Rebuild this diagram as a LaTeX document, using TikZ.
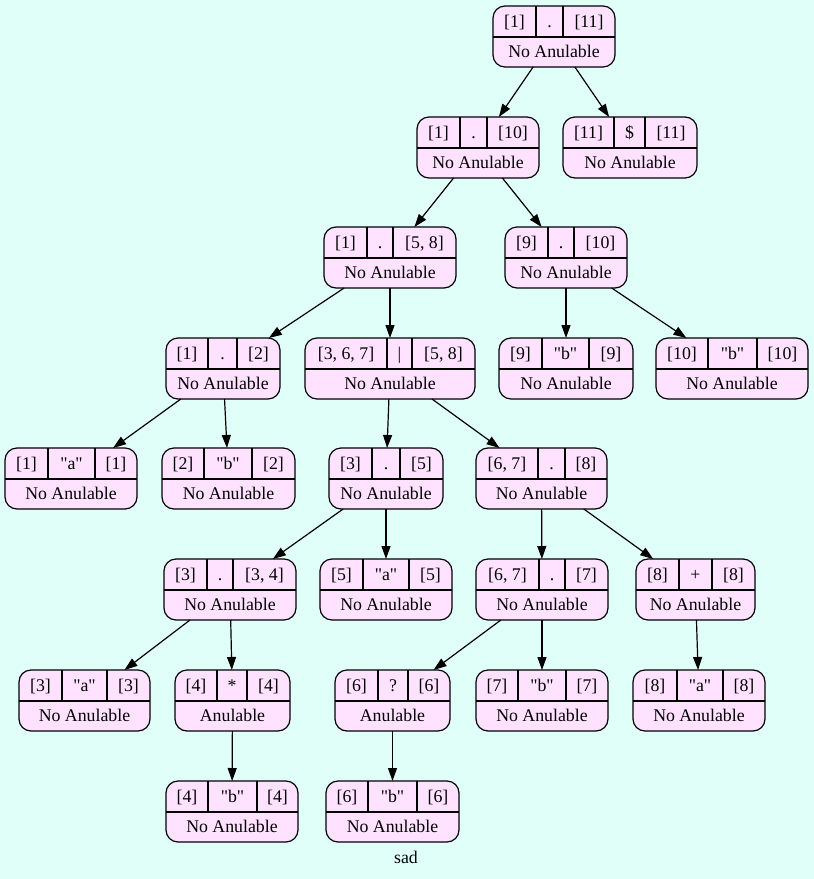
\documentclass[tikz,border=0pt]{standalone}
\usepackage{fontspec}
\setmainfont{Liberation Serif}
\newfontfamily\plainfont{Liberation Serif}
\usetikzlibrary{arrows.meta}
\definecolor{bgcol}{HTML}{E0FFF8}
\definecolor{nodefill}{HTML}{FFE2FF}
\tikzset{
  recbox/.style={draw=black, line width=1.2pt, fill=nodefill, rounded corners=12pt,
    minimum height=61pt, inner sep=0pt, outer sep=0pt, rectangle},
  divline/.style={draw=black, line width=1.2pt},
  celltxt/.style={font=\plainfont\fontsize{17.8}{20}\selectfont, anchor=base, inner sep=0pt},
  edge/.style={draw=black, line width=1.2pt, -{Triangle[length=13pt,width=9pt]}},
}
% #1 name, #2 left, #3 right, #4 top, #5 v1, #6 v2, #7 t1, #8 t2, #9 t3
\newcommand\recgen[9]{%
  \node[recbox, minimum width={#3-#2}] (#1) at ({(#2+#3)/2},{-#4-30.5}) {};
  \draw[divline] (#2,{-#4-31}) -- (#3,{-#4-31});
  \draw[divline] (#5,{-#4}) -- (#5,{-#4-31});
  \draw[divline] (#6,{-#4}) -- (#6,{-#4-31});
  \node[celltxt] at ({(#2+#5)/2},{-#4-21.5}) {#7};
  \node[celltxt] at ({(#5+#6)/2},{-#4-21.5}) {#8};
  \node[celltxt] at ({(#6+#3)/2},{-#4-21.5}) {#9};
  \node[celltxt] at ({(#2+#3)/2},{-#4-51}) {\bottomtext};
}
\newcommand\recN{\def\bottomtext{No Anulable}\recgen}
\newcommand\recA{\def\bottomtext{Anulable}\recgen}
\begin{document}
\begin{tikzpicture}[x=1pt,y=1pt]
\fill[bgcol] (0,0) rectangle (814,-879);
\useasboundingbox (0,0) rectangle (814,-879);

\recN{root}{493}{615}{6}{536}{563}{[1]}{.}{[11]}
\recN{n11}{563}{697}{117}{614}{645}{[11]}{\$}{[11]}
\recN{n110}{417}{539}{117}{460}{487}{[1]}{.}{[10]}
\recN{n158}{324}{456}{227}{367}{393}{[1]}{.}{[5, 8]}
\recN{n910}{505}{627}{227}{548}{574}{[9]}{.}{[10]}
\recN{n12}{166}{280}{338}{208}{237}{[1]}{.}{[2]}
\recN{n367}{305}{475}{338}{387}{412}{[3, 6, 7]}{|}{[5, 8]}
\recN{n9b}{499}{633}{338}{542}{589}{[9]}{"b"}{[9]}
\recN{n10b}{656}{808}{338}{708}{757}{[10]}{"b"}{[10]}
\recN{n1a}{5}{137}{448}{48}{95}{[1]}{"a"}{[1]}
\recN{n2b}{162}{295}{448}{204}{252}{[2]}{"b"}{[2]}
\recN{n35}{329}{443}{448}{372}{400}{[3]}{.}{[5]}
\recN{n678}{476}{607}{448}{538}{565}{[6, 7]}{.}{[8]}
\recN{n334}{164}{296}{559}{207}{233}{[3]}{.}{[3, 4]}
\recN{n5a}{320}{452}{559}{363}{409}{[5]}{"a"}{[5]}
\recN{n677}{476}{608}{559}{539}{565}{[6, 7]}{.}{[7]}
\recN{n8p}{636}{755}{559}{679}{712}{[8]}{+}{[8]}
\recN{n3a}{19}{150}{670}{62}{107}{[3]}{"a"}{[3]}
\recA{n4s}{175}{290}{670}{217}{247}{[4]}{*}{[4]}
\recA{n6q}{335}{450}{670}{378}{408}{[6]}{?}{[6]}
\recN{n7b}{476}{608}{670}{518}{566}{[7]}{"b"}{[7]}
\recN{n8a}{633}{765}{670}{677}{723}{[8]}{"a"}{[8]}
\recN{n4b}{166}{298}{781}{208}{257}{[4]}{"b"}{[4]}
\recN{n6b}{326}{459}{781}{368}{417}{[6]}{"b"}{[6]}

\node[celltxt] (lbl) at (406,-863) {sad};

\draw[edge] (root) -- (n110);
\draw[edge] (root) -- (n11);
\draw[edge] (n110) -- (n158);
\draw[edge] (n110) -- (n910);
\draw[edge] (n158) -- (n12);
\draw[edge] (n158) -- (n367);
\draw[edge] (n910) -- (n9b);
\draw[edge] (n910) -- (n10b);
\draw[edge] (n12) -- (n1a);
\draw[edge] (n12) -- (n2b);
\draw[edge] (n367) -- (n35);
\draw[edge] (n367) -- (n678);
\draw[edge] (n35) -- (n334);
\draw[edge] (n35) -- (n5a);
\draw[edge] (n678) -- (n677);
\draw[edge] (n678) -- (n8p);
\draw[edge] (n334) -- (n3a);
\draw[edge] (n334) -- (n4s);
\draw[edge] (n677) -- (n6q);
\draw[edge] (n677) -- (n7b);
\draw[edge] (n8p) -- (n8a);
\draw[edge] (n4s) -- (n4b);
\draw[edge] (n6q) -- (n6b);
\end{tikzpicture}
\end{document}
